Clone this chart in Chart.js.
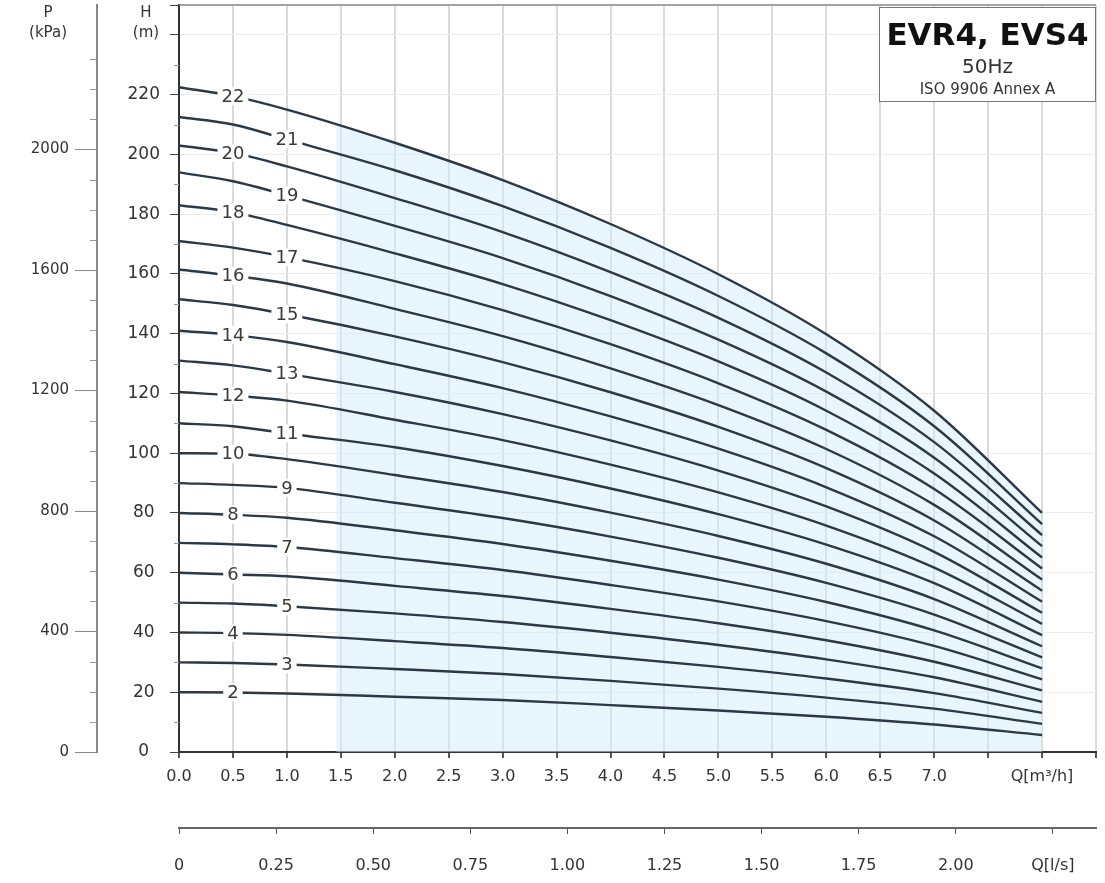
<!DOCTYPE html>
<html>
<head>
<meta charset="utf-8">
<script src="https://cdn.jsdelivr.net/npm/chart.js@4"></script>
<style>
  html, body { margin: 0; padding: 0; background: #fff; }
  #wrap { width: 1105px; height: 883px; }
</style>
</head>
<body>
<div id="wrap"><canvas id="pumpChart" width="1105" height="883"></canvas></div>
<script>
// flow points (m3/h) where the curves were read
const qPoints = [0, 0.5, 1, 2, 3, 4, 5, 6, 7, 8];

// head (m) per number of stages
const h2  = [20, 19.9, 19.6, 18.5, 17.4, 15.7, 13.9, 11.8, 9.2, 5.7];
const h3  = [30, 29.8, 29.3, 27.8, 26.1, 23.8, 21.2, 18.2, 14.5, 9.4];
const h4  = [40, 39.8, 39.2, 37.1, 34.8, 31.8, 28.5, 24.6, 19.7, 13.1];
const h5  = [50, 49.7, 48.8, 46.4, 43.5, 39.9, 35.8, 31.0, 25.0, 16.8];
const h6  = [60, 59.4, 58.8, 55.6, 52.2, 47.9, 43.1, 37.4, 30.2, 20.6];
const h7  = [70, 69.5, 68.6, 64.9, 60.9, 55.9, 50.4, 43.8, 35.5, 24.3];
const h8  = [80, 79.4, 78.4, 74.2, 69.6, 64.0, 57.7, 50.2, 40.7, 28.0];
const h9  = [90, 89.4, 88.4, 83.4, 78.3, 72.1, 65.0, 56.6, 46.0, 31.7];
const h10 = [100, 99.8, 98.0, 92.7, 87.0, 80.1, 72.3, 63.0, 51.2, 35.4];
const h11 = [110, 109.0, 106.6, 102.0, 95.7, 88.2, 79.6, 69.4, 56.5, 39.1];
const h12 = [120.5, 119.3, 117.6, 111.2, 104.4, 96.2, 86.9, 75.8, 61.7, 42.9];
const h13 = [131, 129.4, 126.6, 120.5, 113.1, 104.3, 94.2, 82.2, 67.0, 46.6];
const h14 = [141, 139.6, 137.2, 129.8, 121.8, 112.3, 101.5, 88.6, 72.2, 50.3];
const h15 = [151.5, 149.6, 146.5, 139.1, 130.5, 120.4, 108.8, 95.0, 77.5, 54.0];
const h16 = [161.5, 159.4, 156.8, 148.3, 139.2, 128.4, 116.1, 101.4, 82.7, 57.7];
const h17 = [171, 168.8, 165.6, 157.6, 147.9, 136.5, 123.4, 107.8, 88.0, 61.4];
const h18 = [183, 180.7, 176.4, 166.9, 156.6, 144.5, 130.7, 114.2, 93.2, 65.1];
const h19 = [194, 191.0, 186.3, 176.1, 165.3, 152.6, 138.0, 120.6, 98.5, 68.9];
const h20 = [203, 200.5, 196.0, 185.4, 174.0, 160.6, 145.3, 127.0, 103.7, 72.6];
const h21 = [212.5, 210.0, 205.0, 194.7, 182.7, 168.7, 152.6, 133.4, 109.0, 76.3];
const h22 = [222.5, 219.5, 215.0, 203.9, 191.4, 176.7, 159.9, 139.8, 114.2, 80.0];

const stages = [2, 3, 4, 5, 6, 7, 8, 9, 10, 11, 12, 13, 14, 15, 16, 17, 18, 19, 20, 21, 22];
const heads = [h2, h3, h4, h5, h6, h7, h8, h9, h10, h11, h12, h13, h14, h15, h16, h17, h18, h19, h20, h21, h22];
// index in qPoints where the stage number is written (0.5 or 1.0 m3/h)
const labelAt = [1, 2, 1, 2, 1, 2, 1, 2, 1, 2, 1, 2, 1, 2, 1, 2, 1, 2, 1, 2, 1];

// tick labels
const qLabels = ['0.0', '0.5', '1.0', '1.5', '2.0', '2.5', '3.0', '3.5', '4.0', '4.5', '5.0', '5.5', '6.0', '6.5', '7.0', '', 'Q[m\u00B3/h]', ''];
const lsLabels = ['0', '0.25', '0.50', '0.75', '1.00', '1.25', '1.50', '1.75', '2.00', 'Q[l/s]', ''];
const hLabels = ['0', '20', '40', '60', '80', '100', '120', '140', '160', '180', '200', '220', '', ''];
const pTicks = [0, 400, 800, 1200, 1600, 2000];
const pLabels = ['0', '400', '800', '1200', '1600', '2000'];

const TXT = '#333';
const FONT = '"DejaVu Sans", sans-serif';

const hMax = 250;
const qMax = 8.5;
const kPaPerM = 9.92;

const datasets = heads.map(function(h, i) {
  const ds = {
    label: String(stages[i]),
    data: qPoints.map(function(q, j) { return { x: q, y: h[j] }; }),
    borderColor: '#2b3846',
    borderWidth: 2.4,
    pointRadius: 0,
    cubicInterpolationMode: 'monotone',
    fill: false,
    xAxisID: 'x',
    yAxisID: 'y'
  };
  if (stages[i] === 22) {
    ds.fill = 'origin';
    ds.backgroundColor = function(context) {
      const chart = context.chart;
      const area = chart.chartArea;
      if (!area) return 'rgba(0,0,0,0)';
      const x0 = chart.scales.x.getPixelForValue(1.45);
      const g = chart.ctx.createLinearGradient(area.left, 0, area.right, 0);
      const pos = (x0 - area.left) / (area.right - area.left);
      g.addColorStop(0, 'rgba(210,236,252,0)');
      g.addColorStop(pos, 'rgba(210,236,252,0)');
      g.addColorStop(pos + 0.002, 'rgba(210,236,252,0.5)');
      g.addColorStop(1, 'rgba(210,236,252,0.5)');
      return g;
    };
  }
  return ds;
});

// stage numbers on the curves
const curveLabels = {
  id: 'curveLabels',
  afterDatasetsDraw(chart) {
    const ctx = chart.ctx;
    ctx.save();
    ctx.font = '18px ' + FONT;
    ctx.textAlign = 'center';
    ctx.textBaseline = 'middle';
    chart.data.datasets.forEach(function(ds, i) {
      const pt = chart.getDatasetMeta(i).data[labelAt[i]];
      const w = ctx.measureText(ds.label).width + 8;
      ctx.fillStyle = '#fff';
      ctx.fillRect(pt.x - w / 2, pt.y - 9, w, 18);
      ctx.fillStyle = '#3a3a3a';
      ctx.fillText(ds.label, pt.x, pt.y + 1);
    });
    ctx.restore();
  }
};

// title box, axis titles, minor ticks
const decorations = {
  id: 'decorations',
  afterDraw(chart) {
    const ctx = chart.ctx;
    const area = chart.chartArea;
    const ys = chart.scales.y;
    const ps = chart.scales.p;
    ctx.save();

    // top border
    ctx.strokeStyle = '#888';
    ctx.lineWidth = 1.5;
    ctx.beginPath();
    ctx.moveTo(area.left, area.top);
    ctx.lineTo(area.right, area.top);
    ctx.stroke();

    // title box
    const bx = 879, by = area.top + 2, bw = area.right - 879, bh = 94;
    ctx.fillStyle = '#fff';
    ctx.fillRect(bx, by, bw, bh);
    ctx.strokeStyle = '#777';
    ctx.lineWidth = 1;
    ctx.strokeRect(bx + 0.5, by + 0.5, bw - 1, bh);
    ctx.fillStyle = '#111';
    ctx.textAlign = 'center';
    ctx.textBaseline = 'alphabetic';
    const cx = bx + bw / 2;
    ctx.font = 'bold 31px ' + FONT;
    ctx.fillText('EVR4, EVS4', cx, by + 38);
    ctx.fillStyle = '#333';
    ctx.font = '20px ' + FONT;
    ctx.fillText('50Hz', cx, by + 66);
    ctx.font = '15px ' + FONT;
    ctx.fillText('ISO 9906 Annex A', cx, by + 87);

    // axis titles
    ctx.fillStyle = TXT;
    ctx.font = '15px ' + FONT;
    ctx.textBaseline = 'middle';
    ctx.fillText('H', ys.right - 33, 13);
    ctx.fillText('(m)', ys.right - 33, 33);
    ctx.fillText('P', ps.right - 49, 13);
    ctx.fillText('(kPa)', ps.right - 49, 33);

    // minor ticks on the P axis
    ctx.strokeStyle = '#999';
    ctx.lineWidth = 1;
    for (let v = 100; v <= 2400; v += 100) {
      if (v % 400 === 0) continue;
      const y = Math.round(ps.getPixelForValue(v)) + 0.5;
      ctx.beginPath();
      ctx.moveTo(ps.right - 7, y);
      ctx.lineTo(ps.right, y);
      ctx.stroke();
    }
    // minor ticks on the H axis
    for (let v = 10; v <= 240; v += 20) {
      const y = Math.round(ys.getPixelForValue(v)) + 0.5;
      ctx.beginPath();
      ctx.moveTo(ys.right - 5, y);
      ctx.lineTo(ys.right, y);
      ctx.stroke();
    }
    ctx.restore();
  }
};

new Chart(document.getElementById('pumpChart'), {
  type: 'line',
  data: { datasets: datasets },
  options: {
    responsive: false,
    animation: false,
    events: [],
    layout: { padding: { top: 5, right: 4, left: 0, bottom: 0 } },
    plugins: {
      legend: { display: false },
      tooltip: { enabled: false }
    },
    scales: {
      x: {
        type: 'linear',
        position: 'bottom',
        min: 0,
        max: qMax,
        afterFit: function(s) { s.height = 76; },
        ticks: {
          stepSize: 0.5,
          autoSkip: false,
          maxRotation: 0,
          padding: 9,
          color: TXT,
          font: { family: FONT, size: 16 },
          callback: function(v, i) { return qLabels[i]; }
        },
        grid: {
          color: '#dadada',
          lineWidth: 2,
          tickLength: 6,
          tickColor: '#555'
        },
        border: { color: '#333', width: 2 }
      },
      x2: {
        type: 'linear',
        position: 'bottom',
        bounds: 'data',
        min: 0,
        max: qMax / 3.6,
        afterFit: function(s) { s.height = 55; },
        ticks: {
          stepSize: 0.25,
          includeBounds: false,
          autoSkip: false,
          maxRotation: 0,
          padding: 22,
          color: TXT,
          font: { family: FONT, size: 16 },
          callback: function(v, i) { return lsLabels[i]; }
        },
        grid: {
          drawOnChartArea: false,
          tickLength: 6,
          color: function(c) { return c.tick && c.tick.value > 2.3 ? 'rgba(0,0,0,0)' : '#555'; }
        },
        border: { color: '#666', width: 2 }
      },
      y: {
        type: 'linear',
        position: 'left',
        weight: 0,
        min: 0,
        max: hMax,
        afterFit: function(s) { s.width = 82; s.paddingTop = 0; s.paddingBottom = 0; },
        ticks: {
          stepSize: 20,
          autoSkip: false,
          crossAlign: 'center',
          padding: 10,
          color: TXT,
          font: { family: FONT, size: 17 },
          callback: function(v, i) { return hLabels[i]; }
        },
        grid: {
          color: '#ececec',
          lineWidth: 1,
          tickLength: 9,
          tickColor: '#444'
        },
        border: { color: '#333', width: 2 }
      },
      p: {
        type: 'linear',
        position: 'left',
        weight: 1,
        bounds: 'data',
        min: 0,
        max: hMax * kPaPerM,
        afterBuildTicks: function(s) { s.ticks = pTicks.map(function(v) { return { value: v }; }); },
        afterFit: function(s) { s.width = 97; s.paddingTop = 0; s.paddingBottom = 0; },
        ticks: {
          autoSkip: false,
          padding: 6,
          color: TXT,
          font: { family: FONT, size: 15 },
          callback: function(v, i) { return pLabels[i]; }
        },
        grid: {
          drawOnChartArea: false,
          tickLength: 22,
          color: '#888'
        },
        border: { color: '#888', width: 2 }
      }
    }
  },
  plugins: [curveLabels, decorations]
});
</script>
</body>
</html>
